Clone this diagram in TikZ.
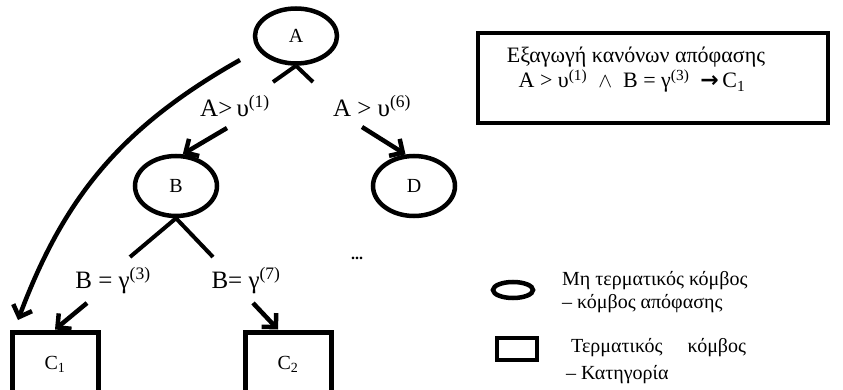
\documentclass[tikz,border=0pt]{standalone}
\usepackage{fontspec}
\setmainfont{Liberation Serif}
\newfontfamily\symfont{DejaVu Sans}
\usetikzlibrary{shapes.geometric,arrows.meta,calc}
\newcommand\supr[1]{\textsuperscript{#1}}
\begin{document}
\begin{tikzpicture}[x=1pt,y=-1pt,
  dnode/.style={ellipse,draw,line width=4.5pt,minimum width=82pt,minimum height=57pt,inner sep=0pt,font=\fontsize{20}{22}\selectfont},
  leaf/.style={rectangle,draw,line width=5pt,minimum width=86pt,minimum height=64pt,inner sep=0pt,font=\fontsize{20}{22}\selectfont},
  lab/.style={font=\fontsize{25}{28}\selectfont,inner sep=0pt},
  legtext/.style={font=\fontsize{20}{23}\selectfont,inner sep=0pt,align=left,anchor=west},
  arr/.style={line width=4.5pt,-{Straight Barb[length=10pt,width=20pt]}},
  seg/.style={line width=4pt}]
\useasboundingbox (0,0) rectangle (843,390);
\clip (0,0) rectangle (843,390);
% tree nodes
\node[dnode,minimum height=55pt] (A) at (296,36) {A};
\node[dnode,minimum height=60pt] (B) at (176,186) {B};
\node[dnode,minimum height=60pt] (D) at (414,186) {D};
\node[leaf] (C1) at (55,364) {C\textsubscript{1}};
\node[leaf] (C2) at (288,364) {C\textsubscript{2}};
% split marks
\coordinate (a1) at (273,82);
\coordinate (a2) at (313,82);
\draw[seg] (A.south) -- (a1);
\draw[seg] (A.south) -- (a2);
\coordinate (b1) at (130,257);
\coordinate (b2) at (213,257);
\draw[seg] (B.south) -- (b1);
\draw[seg] (B.south) -- (b2);
% edge labels
\node[lab] (l1) at (235,106) {A>\,υ\supr{(1)}};
\node[lab] (l6) at (372,106) {A > υ\supr{(6)}};
\node[lab] (l3) at (113,281) {B = γ\supr{(3)}};
\node[lab] (l7) at (246,281) {B= γ\supr{(7)}};
\node[font=\fontsize{16}{18}\selectfont\bfseries,inner sep=0pt] (dots) at (357,258) {...};
% arrows
\coordinate (s1) at (227,128);
\coordinate (s6) at (362,127);
\coordinate (s3) at (87,303);
\coordinate (s7) at (253,303);
\draw[arr] (s1) -- (B.78);
\draw[arr] (s6) -- (D.105);
\draw[arr] (s3) -- (C1.north);
\draw[arr] (s7) -- ($(C2.north)+(-10,0)$);
% long curved arrow
\coordinate (cs) at (240,60);
\coordinate (ce) at (18,320);
\draw[arr] (cs) to[bend right=20] (ce);
% rule box
\node[draw,line width=4pt,minimum width=350pt,minimum height=90pt,inner sep=0pt] (rule) at (653,78) {};
\node[font=\fontsize{22}{25}\selectfont,inner sep=0pt,align=center] (ruletxt) at (636,70)
  {Εξαγωγή κανόνων απόφασης\\A > υ\supr{(1)}\ \ $\wedge$\ \ B = γ\supr{(3)}\ \ {\symfont\bfseries →}\,C\textsubscript{1}\hspace*{8pt}};
% legend
\node[ellipse,draw,line width=4.5pt,minimum width=40pt,minimum height=16pt,inner sep=0pt] (legE) at (513,290) {};
\node[legtext] (legEt) at (562,292) {Μη τερματικός κόμβος\\– κόμβος απόφασης};
\node[rectangle,draw,line width=4.5pt,minimum width=40pt,minimum height=22pt,inner sep=0pt] (legR) at (517,349) {};
\node[legtext,font=\fontsize{20}{27}\selectfont] (legRt) at (566,361) {\ Τερματικός \quad κόμβος\\– Κατηγορία};
\end{tikzpicture}
\end{document}
